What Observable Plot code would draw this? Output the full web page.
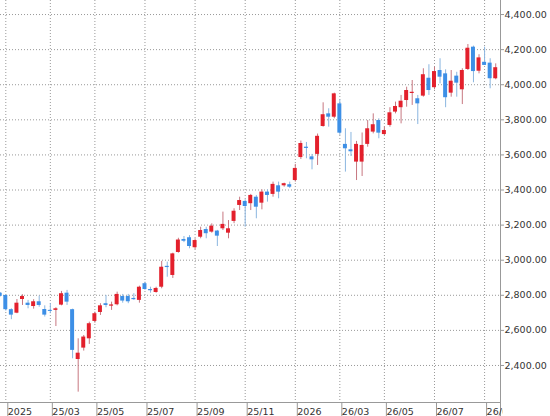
<!DOCTYPE html>
<html>
<head>
<meta charset="utf-8">
<script src="https://cdn.jsdelivr.net/npm/d3@7"></script>
<script src="https://cdn.jsdelivr.net/npm/@observablehq/plot@0.6"></script>
<style>
  html, body { margin: 0; padding: 0; background: #fff; }
  #chart svg { display: block; }
</style>
</head>
<body>
<div id="chart"></div>
<script>
// Weekly candles (week start dates)
const weeks = [
  "2024-12-30",
  "2025-01-06","2025-01-13","2025-01-20","2025-01-27",
  "2025-02-03","2025-02-10","2025-02-17","2025-02-24",
  "2025-03-03","2025-03-10","2025-03-17","2025-03-24","2025-03-31",
  "2025-04-07","2025-04-14","2025-04-21","2025-04-28",
  "2025-05-05","2025-05-12","2025-05-19","2025-05-26",
  "2025-06-02","2025-06-09","2025-06-16","2025-06-23","2025-06-30",
  "2025-07-07","2025-07-14","2025-07-21","2025-07-28",
  "2025-08-04","2025-08-11","2025-08-18","2025-08-25",
  "2025-09-01","2025-09-08","2025-09-15","2025-09-22","2025-09-29",
  "2025-10-06","2025-10-13","2025-10-20","2025-10-27",
  "2025-11-03","2025-11-10","2025-11-17","2025-11-24",
  "2025-12-01","2025-12-08","2025-12-15","2025-12-22","2025-12-29",
  "2026-01-05","2026-01-12","2026-01-19","2026-01-26",
  "2026-02-02","2026-02-09","2026-02-16","2026-02-23",
  "2026-03-02","2026-03-09","2026-03-16","2026-03-23","2026-03-30",
  "2026-04-06","2026-04-13","2026-04-20","2026-04-27",
  "2026-05-04","2026-05-11","2026-05-18","2026-05-25",
  "2026-06-01","2026-06-08","2026-06-15","2026-06-22","2026-06-29",
  "2026-07-06","2026-07-13","2026-07-20","2026-07-27",
  "2026-08-03","2026-08-10","2026-08-17","2026-08-24","2026-08-31",
  "2026-09-07","2026-09-14"
];
const openVals = [
  2812,
  2799,2718,2698,2776, 2755,2736,2763,2719, 2714,2714,2744,2812,2718,
  2434,2499,2552,2651, 2702,2752,2738,2746, 2793,2793,2782,2771,2866,
  2833,2816,2846,2965, 2913,3044,3118,3128, 3071,3131,3175,3160,3166,
  3179,3154,3221,3312, 3335,3322,3359,3325, 3388,3375,3424,3424,3430,
  3454,3585,3644,3589, 3603,3762,3834,3815, 3891,3660,3629,3559,3559,
  3660,3730,3796,3716, 3768,3844,3869,3910, 3950,3920,3935,4037,3983,
  4081,4062,3952,4049, 3971,4087,4214,4077,4128, 4123,4034
];
const highVals = [
  2816,
  2803,2723,2776,2803, 2771,2775,2795,2740, 2752,2729,2822,2828,2721,
  2552,2571,2647,2704, 2752,2799,2761,2818, 2805,2805,2809,2852,2875,
  2846,2846,2993,2989, 3040,3125,3135,3140, 3122,3188,3188,3207,3170,
  3274,3226,3293,3359, 3344,3375,3369,3401, 3401,3445,3445,3439,3445,
  3546,3679,3671,3603, 3719,3897,3863,3952, 3914,3749,3728,3677,3725,
  3796,3834,3806,3758, 3869,3901,3939,3986, 4024,3939,4091,4114,4100,
  4148,4085,4081,4071, 4091,4229,4220,4171,4214, 4148,4119
];
const lowVals = [
  2790,
  2710,2661,2695,2742, 2723,2721,2732,2676, 2695,2622,2740,2742,2438,
  2248,2482,2520,2641, 2685,2729,2714,2740, 2755,2752,2771,2755,2828,
  2812,2812,2837,2903, 2896,3040,3100,3065, 3060,3122,3122,3154,3078,
  3169,3122,3208,3283, 3188,3283,3236,3287, 3331,3359,3350,3416,3409,
  3445,3574,3578,3515, 3540,3758,3758,3806, 3711,3502,3591,3454,3477,
  3644,3720,3692,3711, 3758,3834,3777,3872, 3882,3773,3929,3939,3971,
  4005,3869,3929,3929, 3887,4081,4011,4062,4110, 3977,4028
];
const closeVals = [
  2794,
  2718,2687,2755,2793, 2742,2763,2742,2687, 2708,2723,2809,2761,2486,
  2470,2562,2638,2695, 2740,2742,2745,2805, 2767,2763,2775,2846,2833,
  2826,2839,2960,2958, 3036,3115,3108,3078, 3112,3169,3151,3194,3137,
  3204,3179,3279,3340, 3306,3369,3302,3388, 3369,3432,3388,3436,3416,
  3523,3665,3637,3572, 3706,3829,3815,3948, 3724,3635,3618,3660,3654,
  3749,3772,3724,3739, 3840,3876,3906,3967, 3957,3891,4057,3967,4075,
  4043,3926,4020,4009, 4081,4208,4075,4153,4110, 4034,4097
];

// Axis ticks
const xTickDates = ["2025-01-06","2025-03-03","2025-04-28","2025-06-30","2025-09-01","2025-11-03",
                    "2026-01-05","2026-03-02","2026-04-27","2026-06-29","2026-08-31"];
const xTickLabels = ["2025","25/03","25/05","25/07","25/09","25/11","2026","26/03","26/05","26/07","26/09"];
const yTicks = [2400, 2600, 2800, 3000, 3200, 3400, 3600, 3800, 4000, 4200, 4400];

const UP = "#e3202c", DOWN = "#3d8fe6";
const UP_WICK = "#c77780", DOWN_WICK = "#8bb6e0";
const DAY = 864e5;

const data = weeks.map((w, i) => ({
  date: new Date(w + "T00:00:00Z"),
  open: openVals[i], high: highVals[i], low: lowVals[i], close: closeVals[i]
}));
const tickDates = xTickDates.map(d => new Date(d + "T00:00:00Z"));
const labelOf = new Map(tickDates.map((d, i) => [+d, xTickLabels[i]]));

const t0 = Date.UTC(2025, 0, 6);
const xDomain = [new Date(t0 - 6.66 * DAY), new Date(t0 + 622 * DAY)];

const fontFam = "'DejaVu Sans', sans-serif";

const svg = Plot.plot({
  width: 550,
  height: 416,
  marginLeft: 0,
  marginRight: 50,
  marginTop: 0,
  marginBottom: 14,
  style: { fontFamily: fontFam, fontSize: "9.5px", color: "#333", background: "#fff" },
  x: { type: "utc", domain: xDomain },
  y: { domain: [2189, 4480] },
  marks: [
    Plot.gridX(tickDates, { stroke: "#999", strokeOpacity: 1, strokeDasharray: "1,2" }),
    Plot.gridY(yTicks, { stroke: "#999", strokeOpacity: 1, strokeDasharray: "1,2" }),
    Plot.ruleX(data, {
      x: "date", y1: "low", y2: "high",
      stroke: d => d.close >= d.open ? UP_WICK : DOWN_WICK, strokeWidth: 1
    }),
    Plot.rect(data, {
      x1: d => new Date(+d.date - 2.5 * DAY),
      x2: d => new Date(+d.date + 2.5 * DAY),
      y1: "open", y2: "close",
      fill: d => d.close >= d.open ? UP : DOWN
    }),
    Plot.ruleY([2189], { stroke: "#999" }),
    Plot.ruleX([xDomain[1]], { stroke: "#999", insetBottom: -14 }),
    Plot.axisX(tickDates, {
      anchor: "bottom", tickSize: 14, tickPadding: -8, stroke: "#999",
      textAnchor: "start", dx: 2, fill: "#333",
      tickFormat: d => labelOf.get(+d), label: null
    }),
    Plot.axisY(yTicks, {
      anchor: "right", tickSize: 3, tickPadding: 1, stroke: "#999",
      tickFormat: d3.format(",.2f"), fill: "#333", label: null
    })
  ]
});

// clip x-axis labels at the right edge of the plotting frame
const xr = svg.scale("x").range;
const defs = d3.select(svg).append("defs");
defs.append("clipPath").attr("id", "xclip")
  .append("rect").attr("x", 0).attr("y", 0).attr("width", xr[1]).attr("height", 416);
d3.select(svg).selectAll('[aria-label="x-axis tick label"]').attr("clip-path", "url(#xclip)");

document.getElementById("chart").appendChild(svg);
</script>
</body>
</html>
